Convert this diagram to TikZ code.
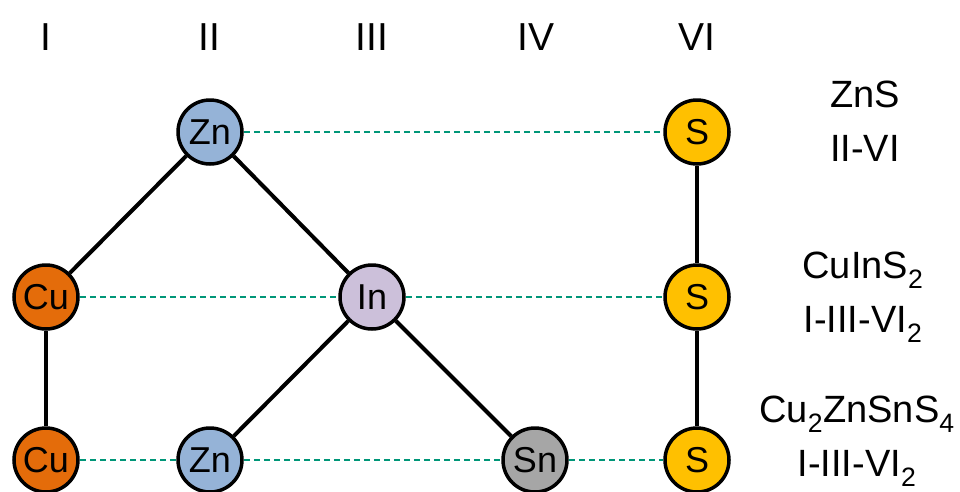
\documentclass[tikz,border=0pt]{standalone}
\usepackage{fontspec}
\setmainfont{Liberation Sans}
\definecolor{znblue}{RGB}{149,179,215}
\definecolor{cuorange}{RGB}{228,108,10}
\definecolor{inlilac}{RGB}{204,192,218}
\definecolor{sngray}{RGB}{166,166,166}
\definecolor{sgold}{RGB}{255,192,0}
\definecolor{dashteal}{RGB}{0,150,120}
\newcommand{\sbs}[1]{\textsubscript{#1}}
\begin{document}
\begin{tikzpicture}[x=1pt,y=-1pt,
  atom/.style={circle,draw=black,line width=3.5pt,minimum size=64pt,inner sep=0pt,
    font=\fontsize{36}{38}\selectfont},
  bond/.style={line width=4pt,black},
  rowlink/.style={dashteal,line width=1.2pt,dash pattern=on 6pt off 4pt},
  colhead/.style={font=\fontsize{39}{42}\selectfont},
  formula/.style={align=center,font=\fontsize{38}{54}\selectfont}]
\useasboundingbox (0,0) rectangle (960,491);

% group headings
\node[colhead] (hI)   at (46,37)  {I};
\node[colhead] (hII)  at (209,37) {II};
\node[colhead] (hIII) at (372,37) {III};
\node[colhead] (hIV)  at (536,37) {IV};
\node[colhead] (hVI)  at (697,37) {VI};

% atoms
\node[atom,fill=znblue]   (zn1) at (210,132) {Zn};
\node[atom,fill=sgold]    (s1)  at (697,132) {S};
\node[atom,fill=cuorange] (cu2) at (46,297)  {Cu};
\node[atom,fill=inlilac]  (in2) at (372,297) {In};
\node[atom,fill=sgold]    (s2)  at (697,297) {S};
\node[atom,fill=cuorange] (cu3) at (46,460)  {Cu};
\node[atom,fill=znblue]   (zn3) at (210,460) {Zn};
\node[atom,fill=sngray]   (sn3) at (535,460) {Sn};
\node[atom,fill=sgold]    (s3)  at (697,460) {S};

% dashed links along each row
\draw[rowlink] (zn1) -- (s1);
\draw[rowlink] (cu2) -- (in2);
\draw[rowlink] (in2) -- (s2);
\draw[rowlink] (cu3) -- (zn3);
\draw[rowlink] (zn3) -- (sn3);
\draw[rowlink] (sn3) -- (s3);

% substitution bonds
\draw[bond] (zn1) -- (cu2);
\draw[bond] (zn1) -- (in2);
\draw[bond] (in2) -- (zn3);
\draw[bond] (in2) -- (sn3);
\draw[bond] (cu2) -- (cu3);
\draw[bond] (s1) -- (s2);
\draw[bond] (s2) -- (s3);

% compound labels
\node[formula] (f1) at (865,121) {ZnS\\II-VI};
\node[formula] (f2) at (863,297) {CuInS\sbs{2}\\I-III-VI\sbs{2}};
\node[formula] (f3) at (857,441) {Cu\sbs{2}ZnSnS\sbs{4}\\I-III-VI\sbs{2}};
\end{tikzpicture}
\end{document}
